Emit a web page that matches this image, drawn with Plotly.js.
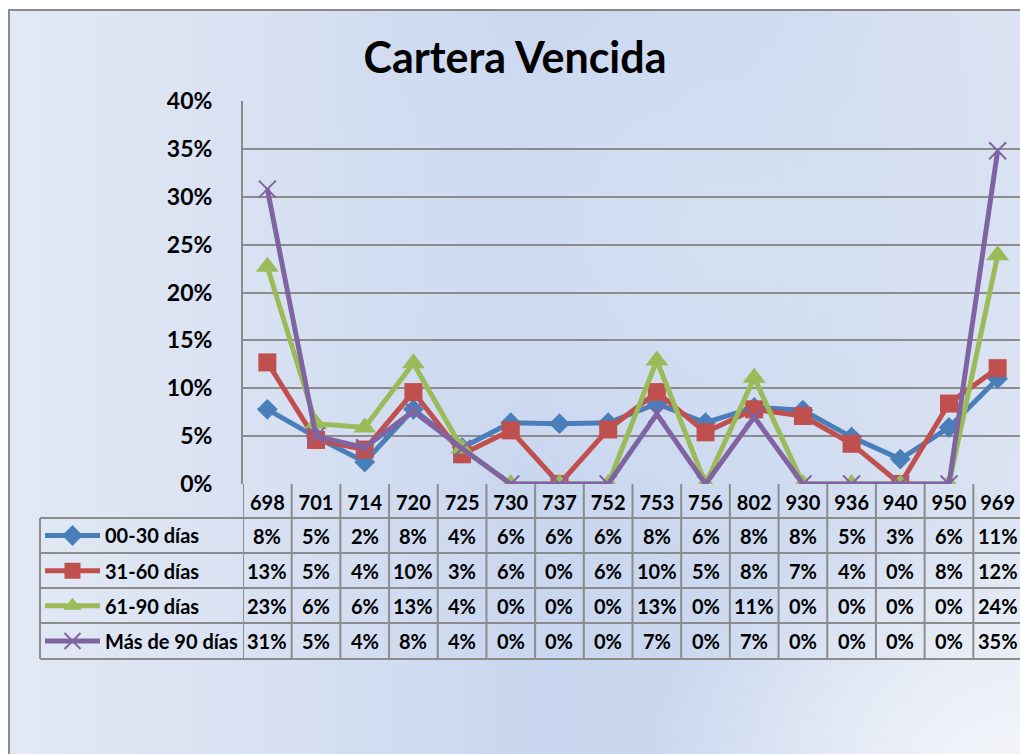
<!DOCTYPE html>
<html>
<head>
<meta charset="utf-8">
<script src="https://cdn.plot.ly/plotly-3.0.1.min.js"></script>
<style>
  html, body { margin: 0; padding: 0; background: #ffffff; overflow: hidden; width: 1020px; height: 754px; }
  #frame {
    position: absolute; left: 8px; top: 9px; width: 1060px; height: 800px;
    border: 2px solid #8a8a8a;
    background:
      radial-gradient(ellipse 360px 260px at 1000px 760px, rgba(244,246,250,1) 0%, rgba(244,246,250,0) 100%),
      radial-gradient(ellipse 420px 320px at 720px 220px, rgba(214,224,242,0.9) 0%, rgba(214,224,242,0) 100%),
      linear-gradient(90deg, #e2e9f5 0%, #d8e1f2 25%, #c8d6ef 50%, #ccd9ef 70%, #dfe6f3 100%);
  }
  #chart { position: absolute; left: 0; top: 0; width: 1040px; height: 780px; }
</style>
</head>
<body>
<div id="frame"></div>
<div id="chart"></div>
<script>
const categories = ['698','701','714','720','725','730','737','752','753','756','802','930','936','940','950','969'];
const seriesNames = ['00-30 días','31-60 días','61-90 días','Más de 90 días'];
const dias00_30 = [7.8, 4.9, 2.3, 7.8, 3.8, 6.4, 6.3, 6.4, 8.4, 6.4, 8.0, 7.7, 4.9, 2.6, 5.9, 11.0];
const dias31_60 = [12.7, 4.6, 3.6, 9.6, 3.1, 5.6, 0, 5.7, 9.6, 5.4, 7.8, 7.1, 4.2, 0, 8.4, 12.1];
const dias61_90 = [22.7, 6.3, 5.9, 12.6, 3.7, 0, 0, 0, 12.9, 0, 11.1, 0, 0, 0, 0, 23.9];
const diasMas90 = [30.8, 5.0, 3.8, 7.6, 3.7, 0, 0, 0, 7.3, 0, 7.0, 0, 0, 0, 0, 34.8];
const yTicks = [0, 5, 10, 15, 20, 25, 30, 35, 40];

const PCT = String.fromCharCode(37);
const W = 1040, H = 780;
const px = v => v / W;
const py = v => 1 - v / H;

const FONT = 'Lato, "Open Sans", sans-serif';
const colors = ['#4A7EBB', '#C0504D', '#9BBB59', '#8064A2'];
const allSeries = [dias00_30, dias31_60, dias61_90, diasMas90];
const markers = [
  {symbol: 'diamond', size: 16, color: colors[0]},
  {symbol: 'square', size: 18, color: colors[1]},
  {symbol: 'triangle-up', size: 20, color: colors[2]},
  {symbol: 'x-thin', size: 17, color: colors[3], line: {color: colors[3], width: 2}}
];
const legendIds = ['legend', 'legend2', 'legend3', 'legend4'];
const rowCenters = [535.5, 570.7, 605.8, 641];
const rowLines = [518, 553, 588, 623, 659];

const traces = allSeries.map((vals, k) => ({
  type: 'scatter', mode: 'lines+markers',
  x: categories, y: vals, name: seriesNames[k],
  line: {color: colors[k], width: 5},
  marker: markers[k],
  legend: legendIds[k],
  hoverinfo: 'skip'
}));

const annotations = [];
allSeries.forEach((vals, k) => {
  vals.forEach((v, i) => {
    annotations.push({
      x: i, y: py(rowCenters[k]), xref: 'x', yref: 'paper',
      text: String(Math.round(v)) + PCT, showarrow: false,
      font: {family: FONT, size: 20, color: '#000000', weight: 'bold'},
      xanchor: 'center', yanchor: 'middle'
    });
  });
});

const lineStyle = {color: '#8c8c8c', width: 2};
const shapes = [];
rowLines.forEach(yv => {
  shapes.push({type: 'line', xref: 'paper', yref: 'paper', x0: px(40), x1: px(1030), y0: py(yv), y1: py(yv), line: lineStyle});
});
shapes.push({type: 'line', xref: 'paper', yref: 'paper', x0: px(40), x1: px(40), y0: py(518), y1: py(659), line: lineStyle});
for (let i = 0; i <= categories.length; i++) {
  shapes.push({type: 'line', xref: 'x', yref: 'paper', x0: i - 0.5, x1: i - 0.5, y0: py(484), y1: py(659), line: lineStyle});
}

const legendBase = k => ({
  x: px(40), xanchor: 'left', y: py(rowCenters[k]), yanchor: 'middle',
  bgcolor: 'rgba(0,0,0,0)', borderwidth: 0, itemwidth: 55,
  font: {family: FONT, size: 20, color: '#000', weight: 'bold'}
});

const layout = {
  width: W, height: H,
  margin: {l: 0, r: 0, t: 0, b: 0},
  paper_bgcolor: 'rgba(0,0,0,0)', plot_bgcolor: 'rgba(0,0,0,0)',
  title: {
    text: 'Cartera Vencida', x: px(515), xanchor: 'center', y: py(58), yanchor: 'middle',
    font: {family: FONT, size: 43, color: '#000', weight: 'bold'}
  },
  showlegend: true,
  legend: legendBase(0), legend2: legendBase(1), legend3: legendBase(2), legend4: legendBase(3),
  xaxis: {
    type: 'category', domain: [px(243), px(1022)], range: [-0.5, categories.length - 0.5],
    showgrid: false, zeroline: false, showline: false, ticks: '',
    tickfont: {family: FONT, size: 20, color: '#000', weight: 'bold'},
    ticklabelstandoff: 5, fixedrange: true
  },
  yaxis: {
    domain: [py(484), py(101)], range: [0, 40],
    tickmode: 'array', tickvals: yTicks, ticktext: yTicks.map(t => t + PCT),
    showgrid: true, gridcolor: '#8c8c8c', gridwidth: 2,
    showline: true, linecolor: '#8c8c8c', linewidth: 2, zeroline: false,
    tickfont: {family: FONT, size: 23, color: '#000', weight: 'bold'},
    ticklabelstandoff: 24, fixedrange: true
  },
  annotations: annotations,
  shapes: shapes
};

Plotly.newPlot('chart', traces, layout, {displayModeBar: false, staticPlot: true});
</script>
</body>
</html>
